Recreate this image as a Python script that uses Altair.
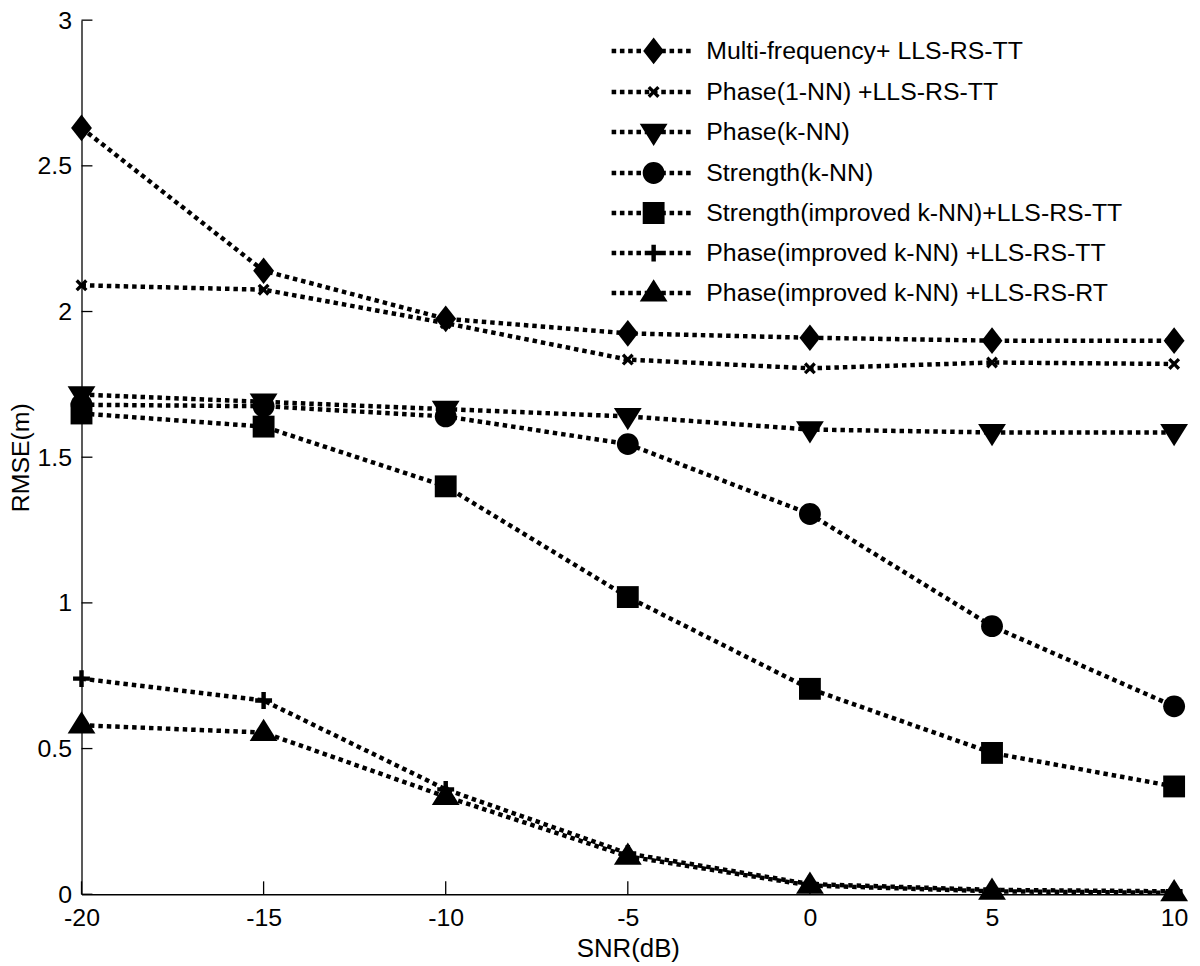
import altair as alt
import pandas as pd

# ---------------- data ----------------
snr = [-20, -15, -10, -5, 0, 5, 10]
names = [
    "Multi-frequency+ LLS-RS-TT",
    "Phase(1-NN) +LLS-RS-TT",
    "Phase(k-NN)",
    "Strength(k-NN)",
    "Strength(improved k-NN)+LLS-RS-TT",
    "Phase(improved k-NN) +LLS-RS-TT",
    "Phase(improved k-NN) +LLS-RS-RT",
]
multi_freq = [2.63, 2.14, 1.975, 1.925, 1.91, 1.90, 1.90]
phase_1nn = [2.09, 2.075, 1.96, 1.835, 1.805, 1.825, 1.82]
phase_knn = [1.715, 1.69, 1.665, 1.64, 1.595, 1.585, 1.585]
strength_knn = [1.68, 1.675, 1.64, 1.545, 1.305, 0.92, 0.645]
strength_imp = [1.65, 1.605, 1.40, 1.02, 0.705, 0.485, 0.37]
phase_imp_tt = [0.74, 0.665, 0.36, 0.14, 0.035, 0.015, 0.01]
phase_imp_rt = [0.58, 0.555, 0.335, 0.13, 0.03, 0.01, 0.005]
series_values = [multi_freq, phase_1nn, phase_knn, strength_knn,
                 strength_imp, phase_imp_tt, phase_imp_rt]

x_ticks = [-20, -15, -10, -5, 0, 5, 10]
y_ticks = [0, 0.5, 1, 1.5, 2, 2.5, 3]

rows = []
for name, vals in zip(names, series_values):
    for xv, yv in zip(snr, vals):
        rows.append({"snr": xv, "rmse": yv, "series": name})
df = pd.DataFrame(rows)

# ---------------- marker shapes (unit box, r = sqrt(size)/2 = 14px) ----------------
diamond = "M0,-0.96L0.75,0L0,0.96L-0.75,0Z"
xmark = ("M-0.43,-0.26L-0.26,-0.43L0,-0.17L0.26,-0.43L0.43,-0.26L0.17,0"
         "L0.43,0.26L0.26,0.43L0,0.17L-0.26,0.43L-0.43,0.26L-0.17,0Z")
tri_down = "M-1,-0.6L1,-0.6L0,1Z"
circle = "M0.786,0A0.786,0.786,0,1,1,-0.786,0A0.786,0.786,0,1,1,0.786,0Z"
square = "M-0.786,-0.786H0.786V0.786H-0.786Z"
plus = ("M-0.607,-0.16H-0.16V-0.607H0.16V-0.16H0.607V0.16H0.16V0.607"
        "H-0.16V0.16H-0.607Z")
tri_up = "M0,-1L1,0.6L-1,0.6Z"
shape_paths = [diamond, xmark, tri_down, circle, square, plus, tri_up]

# legend glyph: dotted line drawn through the marker (same winding, so fills add)
R = 14.0
dot_w, dot_h, period = 4.6, 4.5, 8.33
dots = ""
pos = -42.3
while pos + dot_w <= 41.5:
    x0, x1, hh = pos / R, (pos + dot_w) / R, dot_h / 2 / R
    dots += f"M{x0:.3f},{-hh:.3f}H{x1:.3f}V{hh:.3f}H{x0:.3f}Z"
    pos += period
legend_paths = [dots + p for p in shape_paths]

FONT = "Liberation Sans"
W, H = 1100, 880

x_scale = alt.Scale(domain=[-20, 10], nice=False, zero=False)
y_scale = alt.Scale(domain=[0, 3], nice=False, zero=False)

x_axis = alt.Axis(values=x_ticks, title="SNR(dB)", labelExpr="'' + datum.value",
                  labelPadding=11, labelFlush=False, labelOverlap=False,
                  titleFontSize=26, titleBaseline="alphabetic", titleY=63)
y_axis = alt.Axis(values=y_ticks, title="RMSE(m)", labelExpr="'' + datum.value",
                  labelPadding=10, labelFlush=False, labelOverlap=False,
                  titleFontSize=25, titleBaseline="alphabetic", titleX=-53,
                  titleY=H / 2, titleAngle=270)

legend = alt.Legend(
    title=None, orient="none", legendX=562, legendY=17,
    symbolSize=784, symbolFillColor="black", symbolStrokeWidth=0,
    symbolOpacity=1, labelFont=FONT, labelFontSize=25,
    labelColor="black", labelOffset=39, rowPadding=13.3,
    padding=0, labelLimit=600,
)

lines = alt.Chart(df).mark_line(color="black", strokeWidth=4.5,
                                strokeDash=[4.5, 4]).encode(
    x=alt.X("snr:Q", scale=x_scale, axis=x_axis),
    y=alt.Y("rmse:Q", scale=y_scale, axis=y_axis),
    detail="series:N",
)

# visible markers (no legend of their own)
points = alt.Chart(df).mark_point(filled=True, size=784, color="black", opacity=1,
                                  strokeWidth=0).encode(
    x=alt.X("snr:Q", scale=x_scale, axis=x_axis),
    y=alt.Y("rmse:Q", scale=y_scale, axis=y_axis),
    shape=alt.Shape("series:N", scale=alt.Scale(domain=names, range=shape_paths),
                    legend=None),
)

# invisible twin whose shape scale carries the "dotted line + marker" legend glyphs
legend_layer = alt.Chart(df).mark_point(filled=True, size=784, color="black",
                                        opacity=0, strokeWidth=0).encode(
    x=alt.X("snr:Q", scale=x_scale, axis=x_axis),
    y=alt.Y("rmse:Q", scale=y_scale, axis=y_axis),
    shape=alt.Shape("series:N", scale=alt.Scale(domain=names, range=legend_paths),
                    legend=legend),
)

xtick_df = pd.DataFrame({"snr": x_ticks})
ytick_df = pd.DataFrame({"rmse": y_ticks})

xticks = alt.Chart(xtick_df).mark_rule(color="black", strokeWidth=1.3).encode(
    x=alt.X("snr:Q", scale=x_scale, axis=x_axis),
    y=alt.value(H), y2=alt.value(H - 13),
)
yticks = alt.Chart(ytick_df).mark_rule(color="black", strokeWidth=1.3).encode(
    y=alt.Y("rmse:Q", scale=y_scale, axis=y_axis),
    x=alt.value(0), x2=alt.value(11),
)

chart = alt.layer(xticks, yticks, lines, points, legend_layer).resolve_scale(
    shape="independent"
).properties(
    width=W, height=H,
    autosize=alt.AutoSizeParams(type="none"),
    padding={"left": 74, "top": 9, "right": 18, "bottom": 69},
).configure_view(stroke=None).configure_axis(
    grid=False, ticks=False, domainColor="black", domainWidth=1.3,
    labelFont=FONT, labelFontSize=25, labelColor="black",
    titleFont=FONT, titleFontWeight="normal", titleColor="black",
).configure_legend(labelFont=FONT)

chart.save("out.html", embed_options={"renderer": "svg", "actions": False})
